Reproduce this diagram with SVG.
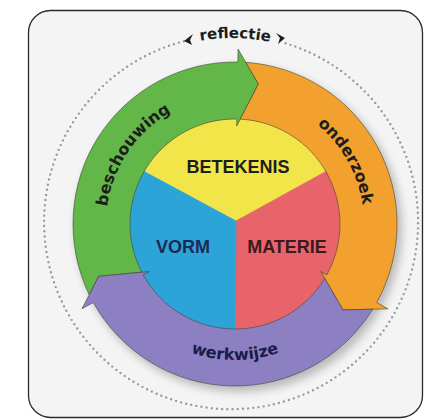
<svg xmlns="http://www.w3.org/2000/svg" width="424" height="419" viewBox="0 0 424 419">
  <style>
    .lbl{font-family:"Liberation Sans",Arial,sans-serif;font-weight:bold;}
    .ring{font-family:"DejaVu Sans","Liberation Sans",sans-serif;font-weight:bold;font-size:16px;fill:#1d1d1d;}
    .edge{stroke:#3b3b2c;stroke-opacity:.55;stroke-width:1;stroke-linejoin:round;}
  </style>
  <defs>
    <filter id="blur" x="-20%" y="-20%" width="140%" height="140%">
      <feGaussianBlur stdDeviation="4"/>
    </filter>
    <path id="pRefl" d="M 116.21 79.0 A 184 184 0 0 1 352.72 83.13"/>
    <path id="pBesch" d="M 111.0 259.56 A 129 129 0 0 1 221.52 95.71"/>
    <path id="pOnder" d="M 258.51 97.16 A 129 129 0 0 1 355.83 269.18"/>
    <path id="pWerk" d="M 147.58 328.18 A 136 136 0 0 0 322.42 328.18"/>
  </defs>

  <rect width="424" height="419" fill="#ffffff"/>
  <rect id="frame" x="28.5" y="10.5" width="394" height="407" rx="22" fill="#f4f4f4" stroke="#2a2a2a" stroke-width="1.3"/>

  <!-- dotted reflection circle -->
  <g id="reflectie">
    <path d="M 285.6 43.3 A 187 187 0 1 1 184.8 41.0" fill="none" stroke="#9a9a9a" stroke-width="2.4" stroke-linecap="round" stroke-dasharray="0 5.2"/>
    <path d="M 193 34 L 184 41 L 192 45 L 190 40 Z" fill="#1d1d1d"/>
    <path d="M 276 33 L 285 38 L 278 44 L 280 38 Z" fill="#1d1d1d"/>
    <text class="ring" font-size="15" style="font-size:15px"><textPath href="#pRefl" startOffset="50%" text-anchor="middle">reflectie</textPath></text>
  </g>

  <!-- shadow -->
  <circle cx="239" cy="229" r="163" fill="#8a8a8a" opacity="0.55" filter="url(#blur)"/>

  <!-- inner pie -->
  <g id="betekenis">
    <path d="M 236 221 L 144.07 171.5 A 105 105 0 0 1 325.93 171.5 Z" fill="#f1e54a" stroke="#f1e54a" stroke-width="0.8"/>
    <text class="lbl" x="238" y="173" font-size="18" text-anchor="middle" fill="#1e1e1e">BETEKENIS</text>
  </g>
  <g id="materie">
    <path d="M 236 221 L 325.93 171.5 A 105 105 0 0 1 235 329 Z" fill="#e8646b" stroke="#e8646b" stroke-width="0.8"/>
    <text class="lbl" x="287" y="253" font-size="18" text-anchor="middle" fill="#3a1a1e">MATERIE</text>
  </g>
  <g id="vorm">
    <path d="M 236 221 L 235 329 A 105 105 0 0 1 144.07 171.5 Z" fill="#2ca4d8" stroke="#2ca4d8" stroke-width="0.8"/>
    <text class="lbl" x="183" y="253" font-size="18" text-anchor="middle" fill="#1b2a55">VORM</text>
  </g>

  <!-- ring arrows (body + head, tail notched around the previous head) -->
  <g id="beschouwing">
    <path class="edge" d="M 89.24 294.68 A 162 162 0 0 1 237.83 62.02 L 238.05 49.03 L 258.44 83.95 L 236.71 126.01 L 236.83 119.02 A 105 105 0 0 0 141.73 272.23 L 98.7 276.32 Z" fill="#63b748"/>
    <text class="ring"><textPath href="#pBesch" startOffset="50%" text-anchor="middle">beschouwing</textPath></text>
  </g>
  <g id="onderzoek">
    <path class="edge" d="M 245.84 62.36 A 162 162 0 0 1 376.69 302.54 L 388.06 308.84 L 343.0 309.91 L 320.71 271.51 L 326.83 274.91 A 105 105 0 0 0 240.26 119.13 L 258.44 83.95 Z" fill="#f3a12e"/>
    <text class="ring"><textPath href="#pOnder" startOffset="50%" text-anchor="middle">onderzoek</textPath></text>
  </g>
  <g id="werkwijze">
    <path class="edge" d="M 372.78 309.20 A 162 162 0 0 1 93.31 302.54 L 81.94 308.84 L 98.7 276.32 L 149.29 271.51 L 143.17 274.91 A 105 105 0 0 0 324.76 278.48 L 343.0 309.91 Z" fill="#8d80c2"/>
    <text class="ring" style="fill:#1c1c48"><textPath href="#pWerk" startOffset="50%" text-anchor="middle">werkwijze</textPath></text>
  </g>

  <g id="connectors"></g>
</svg>
